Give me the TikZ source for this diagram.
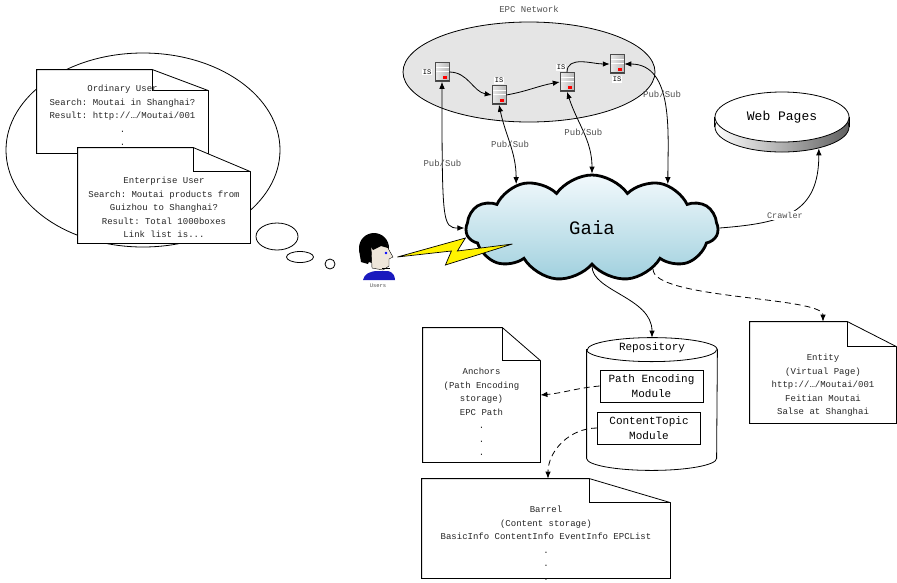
\documentclass[tikz,border=0pt]{standalone}
\usepackage{fontspec}
\setmonofont{Liberation Mono}
\usetikzlibrary{positioning,shapes.geometric,shapes.symbols,arrows.meta}

\definecolor{skyhi}{RGB}{242,249,252}
\definecolor{skylo}{RGB}{160,208,222}
\definecolor{netgray}{RGB}{229,229,229}
\definecolor{shirtblue}{RGB}{26,26,190}
\definecolor{skin}{RGB}{238,230,218}
\definecolor{labelgray}{RGB}{80,80,80}

\tikzset{
  >={Latex[length=7pt,width=5.5pt]},
  every path/.style={line width=0.8pt},
  flow/.style={draw, ->},
  pubsub/.style={draw, <->},
  dashflow/.style={draw, ->, dash pattern=on 6pt off 4pt},
  paper/.style={rectangle, inner sep=0pt},
  note/.style={align=center, inner sep=0pt, text=black!85, font=\ttfamily\fontsize{9}{13.5}\selectfont},
  module/.style={draw, fill=white, align=center, minimum width=103pt, minimum height=32pt, inner sep=0pt, font=\ttfamily\fontsize{11}{15}\selectfont},
  server/.style={rectangle, draw=gray!60!black, line width=0.5pt, minimum width=14pt, minimum height=19pt, inner sep=0pt,
    left color=gray!15, right color=gray!55,
    path picture={
      \draw[white, line width=0.8pt]
        ([yshift=-5pt]path picture bounding box.north west) -- ([yshift=-5pt]path picture bounding box.north east)
        ([yshift=-8.5pt]path picture bounding box.north west) -- ([yshift=-8.5pt]path picture bounding box.north east);
      \fill[black!75] (path picture bounding box.south west) rectangle ([yshift=1.8pt]path picture bounding box.south east);
      \fill[red] ([xshift=-6pt,yshift=3pt]path picture bounding box.south east) rectangle ([xshift=-2.5pt,yshift=5.5pt]path picture bounding box.south east);
    }},
  islabel/.style={fill=white, inner sep=1pt, font=\ttfamily\fontsize{7}{7}\selectfont},
  edgelabel/.style={text=labelgray, inner sep=1pt, font=\ttfamily\fontsize{9}{9}\selectfont},
}

\begin{document}
\begin{tikzpicture}[x=1pt, y=-1pt]
\useasboundingbox (0,0) rectangle (897,582);

% thought bubble
\draw (143,150) ellipse [x radius=137pt, y radius=97pt];
\draw (277,236.5) ellipse [x radius=21pt, y radius=13.5pt];
\draw (300,257) ellipse [x radius=13.5pt, y radius=5.5pt];
\draw (330,264) circle [radius=5pt];

% papers (folded corner notes)
\node (ordinary) [paper, minimum width=171pt, minimum height=83pt] at (122.5,111.5) {};
\node (enterprise) [paper, minimum width=172pt, minimum height=95pt] at (164,195.5) {};
\node (anchors) [paper, minimum width=117pt, minimum height=134pt] at (481.5,395) {};
\node (entity) [paper, minimum width=146pt, minimum height=101pt] at (823,372.5) {};
\node (barrel) [paper, minimum width=248pt, minimum height=99pt] at (546,528.5) {};
\foreach \n/\fw/\fh in {ordinary/56/21, enterprise/57/24, anchors/38/33, entity/49/25, barrel/81/24}{
  \filldraw[fill=white] (\n.north west) -- ([xshift=-\fw pt]\n.north east) -- ([yshift=-\fh pt]\n.north east)
    -- (\n.south east) -- (\n.south west) -- cycle;
  \draw ([xshift=-\fw pt]\n.north east) |- ([yshift=-\fh pt]\n.north east);
}
\node (ordinarytxt) [note, below=15pt of ordinary.north] {Ordinary User\\Search: Moutai in Shanghai?\\Result: http://…/Moutai/001\\.\\.};
\node (enterprisetxt) [note, below=29pt of enterprise.north] {Enterprise User\\Search: Moutai products from\\Guizhou to Shanghai?\\Result: Total 1000boxes\\Link list is...};
\node (anchorstxt) [note, below=40pt of anchors.north] {Anchors\\(Path Encoding\\storage)\\EPC Path\\.\\.\\.};
\node (entitytxt) [note, below=32pt of entity.north] {Entity\\(Virtual Page)\\http://…/Moutai/001\\Feitian Moutai\\Salse at Shanghai};
\node (barreltxt) [note, below=27pt of barrel.north] {Barrel\\(Content storage)\\BasicInfo ContentInfo EventInfo EPCList\\.\\.\\.};

% EPC network
\node (epc) [ellipse, draw, fill=netgray, minimum width=252pt, minimum height=100pt,
  label={[edgelabel, label distance=8pt]above:EPC Network}] at (529,72) {};
\node (s1) [server, label={[islabel, label distance=2pt]left:IS}] at (442,72) {};
\node (s2) [server, label={[islabel, label distance=1pt]above:IS}] at (499,95) {};
\node (s3) [server, label={[islabel, label distance=1pt, xshift=-6pt]above:IS}] at (567,82) {};
\node (s4) [server, label={[islabel, label distance=2pt]below:IS}] at (617,64) {};
\draw[flow] (s1.east) to[out=0, in=170] (s2.west);
\draw[flow] (s2.east) to[out=10, in=190] (s3.west);
\draw[flow] (s3.north) to[out=90, in=180] (s4.west);

% Gaia
\node (gaia) [cloud, cloud puffs=11, cloud puff arc=110, aspect=2.3, draw, line width=2.8pt, top color=skyhi, bottom color=skylo,
  minimum width=252pt, minimum height=106pt, inner sep=0pt, font=\ttfamily\fontsize{19}{19}\selectfont] at (592,228) {Gaia};

\draw[pubsub] (s1.south) .. controls +(0,140) and +(-22,0) .. (gaia.180) node[edgelabel, pos=0.25] {Pub/Sub};
\draw[pubsub] (s2.south) to[out=-78, in=90] node[edgelabel, pos=0.5] {Pub/Sub} (gaia.150);
\draw[pubsub] (s3.south) to[out=-72, in=90] node[edgelabel, pos=0.5] {Pub/Sub} (gaia.north);
\draw[pubsub] (s4.east) to[out=0, in=90] node[edgelabel, pos=0.42] {Pub/Sub} (gaia.30);

% user and link
\node (usr) [minimum width=32pt, minimum height=48pt, inner sep=0pt,
  label={[inner sep=1pt, text=labelgray, font=\ttfamily\fontsize{5.5}{5.5}\selectfont]below:Users}] at (378,258) {};
\begin{scope}[shift={(usr.center)}]
  \fill[black] (-4,-10) ellipse [x radius=15pt, y radius=15pt];
  \fill[black] (-19,-8) -- (-17,4) -- (-10,6) -- (-6,-4) -- cycle;
  \filldraw[fill=skin, draw=black, line width=0.4pt] (-7,-13) -- (8,-15) -- (11,-8) -- (15,-1) -- (11,1) -- (11,8)
    -- (5,12) -- (-6,10) -- cycle;
  \fill[black] (-9,-14) .. controls (-2,-24) and (8,-20) .. (10,-10) -- (3,-12) -- (-5,-8) -- cycle;
  \fill[blue] (8,-5) circle [radius=1.3pt];
  \draw[line width=0.5pt] (4,10) -- (12,10);
  \fill[shirtblue] (-15,22) .. controls (-14,16) and (-8,13) .. (0,13) -- (10,13) .. controls (15,14) and (17,18) .. (17,22) -- cycle;
\end{scope}
\filldraw[fill=yellow, draw=black, line width=0.7pt] ([xshift=3pt,yshift=1pt]usr.east) -- ++(68,-19) -- ++(-8,13)
  -- ++(55,-7) -- ++(-67,21) -- ++(6,-14) -- cycle;

% web pages
\fill[left color=white, right color=gray!75!black] (715,115) rectangle (849,127);
\node (webbase) [ellipse, draw, minimum width=134pt, minimum height=50pt, left color=white, right color=gray!75!black] at (782,127) {};
\node (web) [ellipse, draw, fill=white, minimum width=134pt, minimum height=50pt,
  font=\ttfamily\fontsize{13}{13}\selectfont] at (782,117) {Web Pages};
\draw (webbase.west) -- (web.west) (webbase.east) -- (web.east);
\draw[flow] (gaia.east) .. controls +(65,-5) and +(0,65) .. node[edgelabel, fill=white, pos=0.42, font=\ttfamily\fontsize{8.5}{8.5}\selectfont] {Crawler} (webbase.-30);

% repository
\node (repo) [minimum width=130pt, minimum height=132pt, inner sep=0pt] at (652,404) {};
\filldraw[fill=white] ([yshift=-12pt]repo.north west) -- ([yshift=12pt]repo.south west)
  arc[start angle=180, end angle=360, x radius=65pt, y radius=12pt] -- ([yshift=-12pt]repo.north east)
  arc[start angle=0, end angle=180, x radius=65pt, y radius=12pt] -- cycle;
\draw ([yshift=-12pt]repo.north west) arc[start angle=180, end angle=360, x radius=65pt, y radius=12pt];
\node (repotitle) [below=5pt of repo.north, inner sep=0pt, font=\ttfamily\fontsize{11}{11}\selectfont] {Repository};
\node (pathenc) [module] at (651.5,386) {Path Encoding\\Module};
\node (contopic) [module] at (649,428) {ContentTopic\\Module};

\draw[flow] (gaia.south) .. controls +(0,25) and +(0,-40) .. (repo.north);
\draw[dashflow] (gaia.-34) .. controls +(0,30) and +(0,-25) .. (entity.north);
\draw[dashflow] (pathenc.west) to[out=185, in=5] (anchors.east);
\draw[dashflow] (contopic.west) to[out=180, in=90] ([xshift=2pt]barrel.north);

\end{tikzpicture}
\end{document}
